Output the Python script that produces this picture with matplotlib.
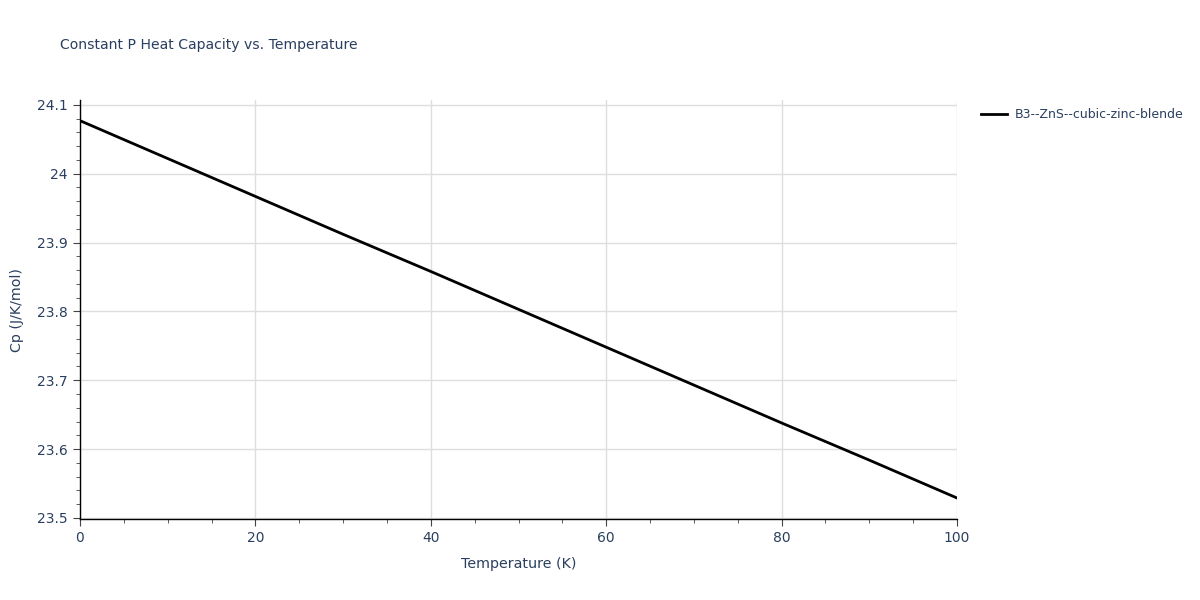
import numpy as np
import matplotlib.pyplot as plt
from matplotlib.ticker import MultipleLocator, FuncFormatter

# ─── Data ─────────────────────────────────────────────────────────────────────
temperature = [0, 10, 20, 30, 40, 50, 60, 70, 80, 90, 100]
cp = [24.077, 24.022, 23.967, 23.912, 23.858, 23.803, 23.748, 23.693, 23.638, 23.584, 23.529]
series_name = 'B3--ZnS--cubic-zinc-blende'

TEXT = '#2a3f5f'
GRID = '#dedede'

fig = plt.figure(figsize=(12, 6), dpi=100)
ax = fig.add_axes([80 / 1200, 1 - 519 / 600, 877 / 1200, 419 / 600])

ax.plot(temperature, cp, color='black', linewidth=2, label=series_name)

ax.set_xlim(0, 100)
ax.set_ylim(23.4985, 24.107)
ax.xaxis.set_major_locator(MultipleLocator(20))
ax.xaxis.set_minor_locator(MultipleLocator(5))
ax.yaxis.set_major_locator(MultipleLocator(0.1))
ax.yaxis.set_minor_locator(MultipleLocator(0.02))
ax.yaxis.set_major_formatter(FuncFormatter(lambda v, p: f'{v:.1f}'.rstrip('0').rstrip('.')))

ax.grid(True, which='major', color=GRID, linewidth=1)
ax.set_axisbelow(True)
for side in ('top', 'right'):
    ax.spines[side].set_visible(False)
for side in ('left', 'bottom'):
    ax.spines[side].set_color('black')
    ax.spines[side].set_linewidth(1)

ax.tick_params(which='major', direction='out', length=5, color='#444444',
               labelcolor=TEXT, labelsize=10, pad=4)
ax.tick_params(which='minor', direction='out', length=3, color='#444444')

ax.set_xlabel('Temperature (K)', color=TEXT, fontsize=10.3, labelpad=8)
ax.set_ylabel('Cp (J/K/mol)', color=TEXT, fontsize=10.3, labelpad=9)

fig.text(60 / 1200, 1 - 45 / 600, 'Constant P Heat Capacity vs. Temperature',
         color=TEXT, fontsize=10.1, va='center', ha='left')

ax.legend(loc='upper left', bbox_to_anchor=(981 / 1200, 1 - 108 / 600),
          bbox_transform=fig.transFigure, frameon=False, borderpad=0,
          borderaxespad=0, fontsize=9, labelcolor=TEXT, handlelength=2.1,
          handletextpad=0.6)

fig.savefig('out.png', dpi=100)
